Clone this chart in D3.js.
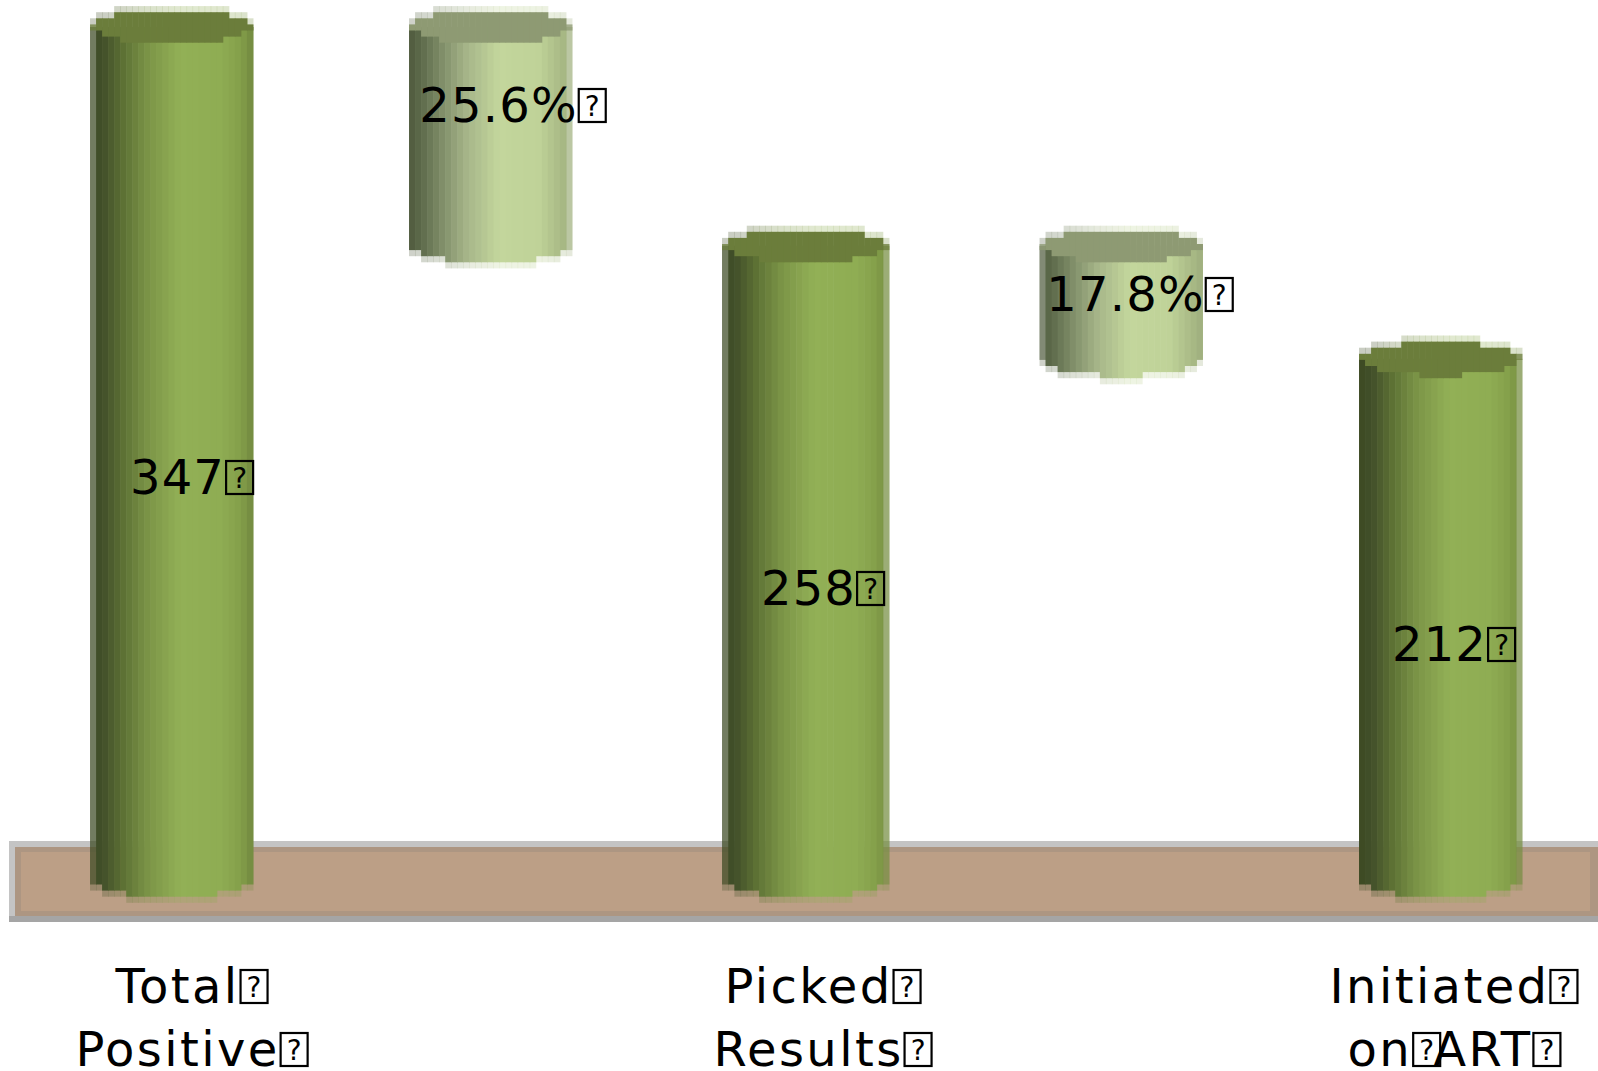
<!DOCTYPE html>
<html><head><meta charset="utf-8">
<script src="https://cdn.jsdelivr.net/npm/d3@7/dist/d3.min.js"></script>
<style>html,body{margin:0;padding:0;background:#fff;overflow:hidden}svg{display:block}text{font-family:"DejaVu Sans",sans-serif;fill:#000}</style>
</head><body><svg id="c" width="1598" height="1071"></svg>
<script>
const slots = ["total","drop1","picked","drop2","art"];
const bases = [0,258,0,212,0];
const heights = [347,89,258,46,212];
const valueLabels = ["347","25.6%","258","17.8%","212"];
const categoryLines = [["Total","Positive"],null,["Picked","Results"],null,["Initiated","on ART"]];
const isDrop = [false,true,false,true,false];
const paleLeft = [true,false,true,true,false];
const paleRight = [false,true,true,false,true];
const labelBaselines = [494,122,605,311,661];
const labelOffsets = [21,25,18,18,15];
const xNudge = [0,2,-2,-1.5,1];
const widthExtra = [0,0,4,0,0];

const W=1598,H=1071,cell=6.1,ry=20,fs=48,COLS=27;
const svg=d3.select("#c");
const x=d3.scaleBand().domain(slots).range([13,1598]).paddingInner(.486).paddingOuter(.243);
const y=d3.scaleLinear().domain([0,347]).range([880,27]);

// floor
[[9,841,1589,81,"#c4c4c4"],[9,916,1589,6,"#a5a5a5"],[15,847,1583,69,"#ad9682"],[21,852,1569,59,"#bc9f86"]]
 .forEach(d=>svg.append("rect").attr("x",d[0]).attr("y",d[1]).attr("width",d[2]).attr("height",d[3]).attr("fill",d[4]));

const ramp=(st)=>d3.scaleLinear().domain([0,.08,.2,.35,.55,.8,.92,1]).range(st).interpolate(d3.interpolateRgb);
const dark=ramp(["#3d4a22","#42502a","#5c7034","#7a9346","#92b056","#8fad53","#84a04a","#72893f"]);
const light=ramp(["#4f5a3e","#5f6c4c","#7f8d68","#a5b488","#c3d69c","#bfd298","#abbc87","#9eae7e"]);
const qf=v=>Math.floor(v/cell)*cell, qc=v=>Math.ceil(v/cell)*cell;

slots.forEach((s,i)=>{
  const g=svg.append("g");
  const bw=x.bandwidth()+widthExtra[i];
  const x0=x(s)+xNudge[i],cw=bw/COLS;
  const yTop=y(bases[i]+heights[i]), yBot=y(bases[i]);
  const shade=isDrop[i]?light:dark, capCol=isDrop[i]?"#8e9a73":"#6b7d3b";
  const cols=d3.range(COLS).map(c=>{
    const u=((c+.5)/COLS)*2-1;const e=ry*Math.sqrt(Math.max(0,1-u*u));
    return {c,t:(c+.5)/COLS,e};
  });
  const edgeOp=d=>(d.c===0&&paleLeft[i])||(d.c===COLS-1&&paleRight[i])?.62:1;
  g.selectAll("rect.h").data(cols).join("rect").attr("x",d=>x0+d.c*cw).attr("width",cw+.5)
   .attr("y",d=>qf(yTop-d.e)).attr("height",d=>qc(yBot+d.e)-qf(yTop-d.e))
   .attr("fill",d=>shade(d.t)).attr("opacity",.28);
  g.selectAll("rect.b").data(cols).join("rect").attr("x",d=>x0+d.c*cw).attr("width",cw+.5)
   .attr("y",yTop).attr("height",d=>qf(yBot+d.e)-yTop)
   .attr("fill",d=>shade(d.t)).attr("opacity",edgeOp);
  g.selectAll("rect.c").data(cols).join("rect").attr("x",d=>x0+d.c*cw).attr("width",cw+.5)
   .attr("y",d=>qc(yTop-d.e)).attr("height",d=>Math.max(0,qf(yTop+d.e)-qc(yTop-d.e)))
   .attr("fill",capCol).attr("opacity",d=>edgeOp(d)<1?.75:1);
});

function boxed(parts,cx,base,ls){
  const g=svg.append("g");
  const tw=[];
  parts.forEach(p=>{
    const t=g.append("text").attr("y",base).attr("font-size",fs).attr("letter-spacing",ls).text(p);
    tw.push([t,t.node().getComputedTextLength()]);
  });
  const boxW=29,gap=1,inner=20;
  const total=d3.sum(tw,d=>d[1])+(parts.length-1)*inner+boxW+gap;
  let cur=cx-total/2;
  tw.forEach(([t,w],k)=>{
    t.attr("x",cur);
    const bx=cur+w+gap;
    g.append("rect").attr("x",bx).attr("y",base-33).attr("width",boxW-2).attr("height",33)
      .attr("fill","none").attr("stroke","#000").attr("stroke-width",2.2);
    g.append("text").attr("x",bx+(boxW-2)/2).attr("y",base-6).attr("text-anchor","middle")
      .attr("font-size",28).text("?");
    cur+=w+inner+gap;
  });
}
slots.forEach((s,i)=>{
  const cx=x(s)+x.bandwidth()/2+labelOffsets[i];
  boxed([valueLabels[i]],cx,labelBaselines[i],1.2);
  if(categoryLines[i]){
    boxed([categoryLines[i][0]],cx,1003,2.4);
    const l2=categoryLines[i][1];
    boxed(l2.includes(" ")?l2.split(" "):[l2],cx,1066,2.4);
  }
});
</script></body></html>
